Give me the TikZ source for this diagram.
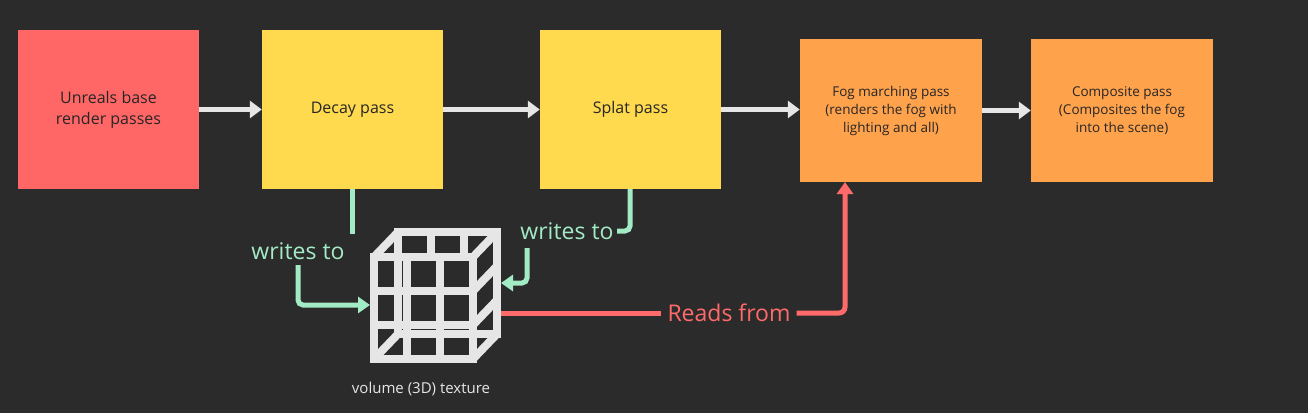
\documentclass[tikz,border=0pt]{standalone}
\usepackage{fontspec}
\setmainfont{Open Sans}
\usetikzlibrary{arrows.meta}
\definecolor{bg}{HTML}{2B2B2B}
\definecolor{cred}{HTML}{FF6666}
\definecolor{cyel}{HTML}{FFD94E}
\definecolor{corg}{HTML}{FFA24C}
\definecolor{cgray}{HTML}{E6E6E6}
\definecolor{cgreen}{HTML}{A3EBC4}
\definecolor{cline}{HTML}{FF6A6A}
\begin{document}
\begin{tikzpicture}[x=1pt,y=-1pt,
  box/.style={draw=none,minimum width=181pt,minimum height=159pt,align=center,font=\fontsize{16}{21}\selectfont,text=black!85},
  obox/.style={draw=none,minimum width=182pt,minimum height=143pt,align=center,font=\fontsize{13.5}{18}\selectfont,text=black!85},
  flow/.style={draw=cgray,line width=5pt,-{Triangle[length=12pt,width=17pt]}},
  grn/.style={draw=cgreen,line width=5pt,rounded corners=5pt},
  lbl/.style={font=\fontsize{23}{26}\selectfont},
  cube/.style={draw=cgray,line width=8pt,line cap=square}]
\useasboundingbox[fill=bg] (0,0) rectangle (1308,413);
\node[box,fill=cred] (base) at (108.5,109.5) {Unreals base\\render passes};
\node[box,fill=cyel] (decay) at (352.5,109.5) {Decay pass};
\node[box,fill=cyel] (splat) at (630.5,109.5) {Splat pass};
\node[obox,fill=corg] (fog) at (891,110.5) {Fog marching pass\\(renders the fog with\\lighting and all)};
\node[obox,fill=corg] (comp) at (1122,110.5) {Composite pass\\(Composites the fog\\into the scene)};
\draw[flow] (base) -- (decay);
\draw[flow] (decay) -- (splat);
\draw[flow] (splat.east) -- (fog.west |- splat.east);
\draw[flow] (fog.east |- comp.east) -- (comp);
% cube
\begin{scope}[cube]
 \draw (374,257) rectangle (473,359);
 \draw (398,232) rectangle (497,334);
 \draw (374,257) -- (398,232) (473,257) -- (497,232) (473,359) -- (497,334) (374,359) -- (398,334);
 \foreach \i in {1,2}{
  \draw (374+33*\i,257) -- (374+33*\i,359);
  \draw (374,257+34*\i) -- (473,257+34*\i);
  \draw (398+33*\i,232) -- (398+33*\i,257);
  \draw (473,257+34*\i) -- (497,232+34*\i);
 }
\end{scope}
\coordinate (cw) at (370,305);
\coordinate (ce) at (501,283);
\coordinate (cr) at (501,313);
\node[text=cgray,font=\fontsize{15}{18}\selectfont] (vol) at (421,389) {volume (3D) texture};
% green left
\node[lbl,text=cgreen] (w1) at (298,251) {writes to};
\draw[grn] (352,189) -- (352,234);
\draw[grn,-{Triangle[length=12pt,width=16pt]}] (w1.south -| 298,0) ++(0,2) |- (cw);
% green right
\node[lbl,text=cgreen] (w2) at (567,231) {writes to};
\draw[grn] (630,189) -- (630,231) -- (w2.east);
\draw[grn,-{Triangle[length=12pt,width=16pt]}] (527,248) |- (ce);
% red
\node[lbl,text=cline,inner sep=6pt] (rf) at (729,313) {Reads from};
\draw[draw=cline,line width=5pt] (cr) -- (rf.west);
\draw[draw=cline,line width=5pt,rounded corners=6pt,-{Triangle[length=12pt,width=16pt]}] (rf.east) -| (845,182);
\end{tikzpicture}
\end{document}
